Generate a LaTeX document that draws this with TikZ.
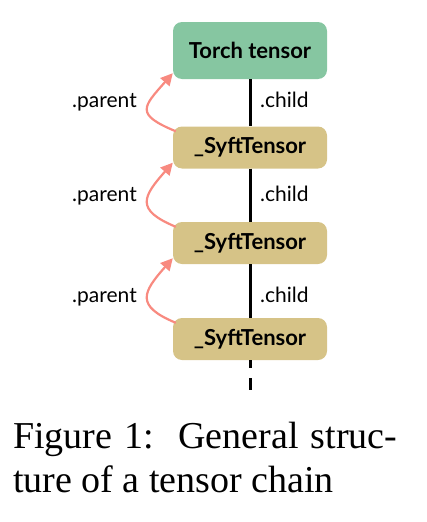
\documentclass[tikz,border=0pt]{standalone}
\usepackage{fontspec}
\setmainfont{Liberation Serif}
\newfontfamily\lato{Lato}
\usetikzlibrary{arrows.meta,calc}
\definecolor{torchgreen}{HTML}{86C6A1}
\definecolor{syftgold}{HTML}{D6C387}
\definecolor{parentred}{HTML}{F88A80}
\tikzset{
  tensorbox/.style={rounded corners=9pt, minimum width=154pt, inner sep=0pt, font=\lato\bfseries\fontsize{22}{24}\selectfont, text=black},
  torchbox/.style={tensorbox, fill=torchgreen, minimum height=57pt},
  syftbox/.style={tensorbox, fill=syftgold, minimum height=42pt},
  childline/.style={line width=3pt, black},
  parentarrow/.style={line width=2.2pt, parentred, -{Triangle[length=12pt,width=12pt]}},
  lbl/.style={font=\lato\fontsize{21}{23}\selectfont, inner sep=0pt},
  captionline/.style={font=\fontsize{38}{43}\selectfont, inner sep=0pt, anchor=base west}
}
\begin{document}
\begin{tikzpicture}[x=1pt,y=-1pt]
\useasboundingbox (0,0) rectangle (426,522);
\coordinate (tail) at (250,390);
\node[torchbox] (t) at (250,50.5) {Torch tensor};
\node[syftbox] (s1) at (250,147.5) {\_SyftTensor};
\node[syftbox] (s2) at (250,243) {\_SyftTensor};
\node[syftbox] (s3) at (250,339) {\_SyftTensor};
\draw[childline] (t.south) -- (s1.north);
\draw[childline] (s1.south) -- (s2.north);
\draw[childline] (s2.south) -- (s3.north);
\draw[childline, dash pattern=on 8pt off 10pt on 12pt off 10pt] (s3.south) -- (tail);
% labels
\node[lbl, anchor=base west] (c1) at (260,107) {.child};
\node[lbl, anchor=base west] (c2) at (260,201) {.child};
\node[lbl, anchor=base west] (c3) at (260,302) {.child};
\node[lbl, anchor=base east] (p1) at (137,107) {.parent};
\node[lbl, anchor=base east] (p2) at (137,201) {.parent};
\node[lbl, anchor=base east] (p3) at (137,302) {.parent};
% parent arrows
\draw[parentarrow] ($(s1.north west)+(3,5)$) .. controls ($(s1.north west)+(-38,-12)$) and ($(t.south west)+(-30,28)$) .. ($(t.south west)+(0,-6)$);
\draw[parentarrow] ($(s2.north west)+(3,5)$) .. controls ($(s2.north west)+(-38,-12)$) and ($(s1.south west)+(-30,28)$) .. ($(s1.south west)+(0,-6)$);
\draw[parentarrow] ($(s3.north west)+(3,5)$) .. controls ($(s3.north west)+(-38,-12)$) and ($(s2.south west)+(-30,28)$) .. ($(s2.south west)+(0,-6)$);
% caption
\node[captionline] (cap1) at (13,448) {\makebox[384pt][s]{Figure 1:\ \ General struc-}};
\node[captionline] (cap2) at (13,492) {ture of a tensor chain};
\end{tikzpicture}
\end{document}
